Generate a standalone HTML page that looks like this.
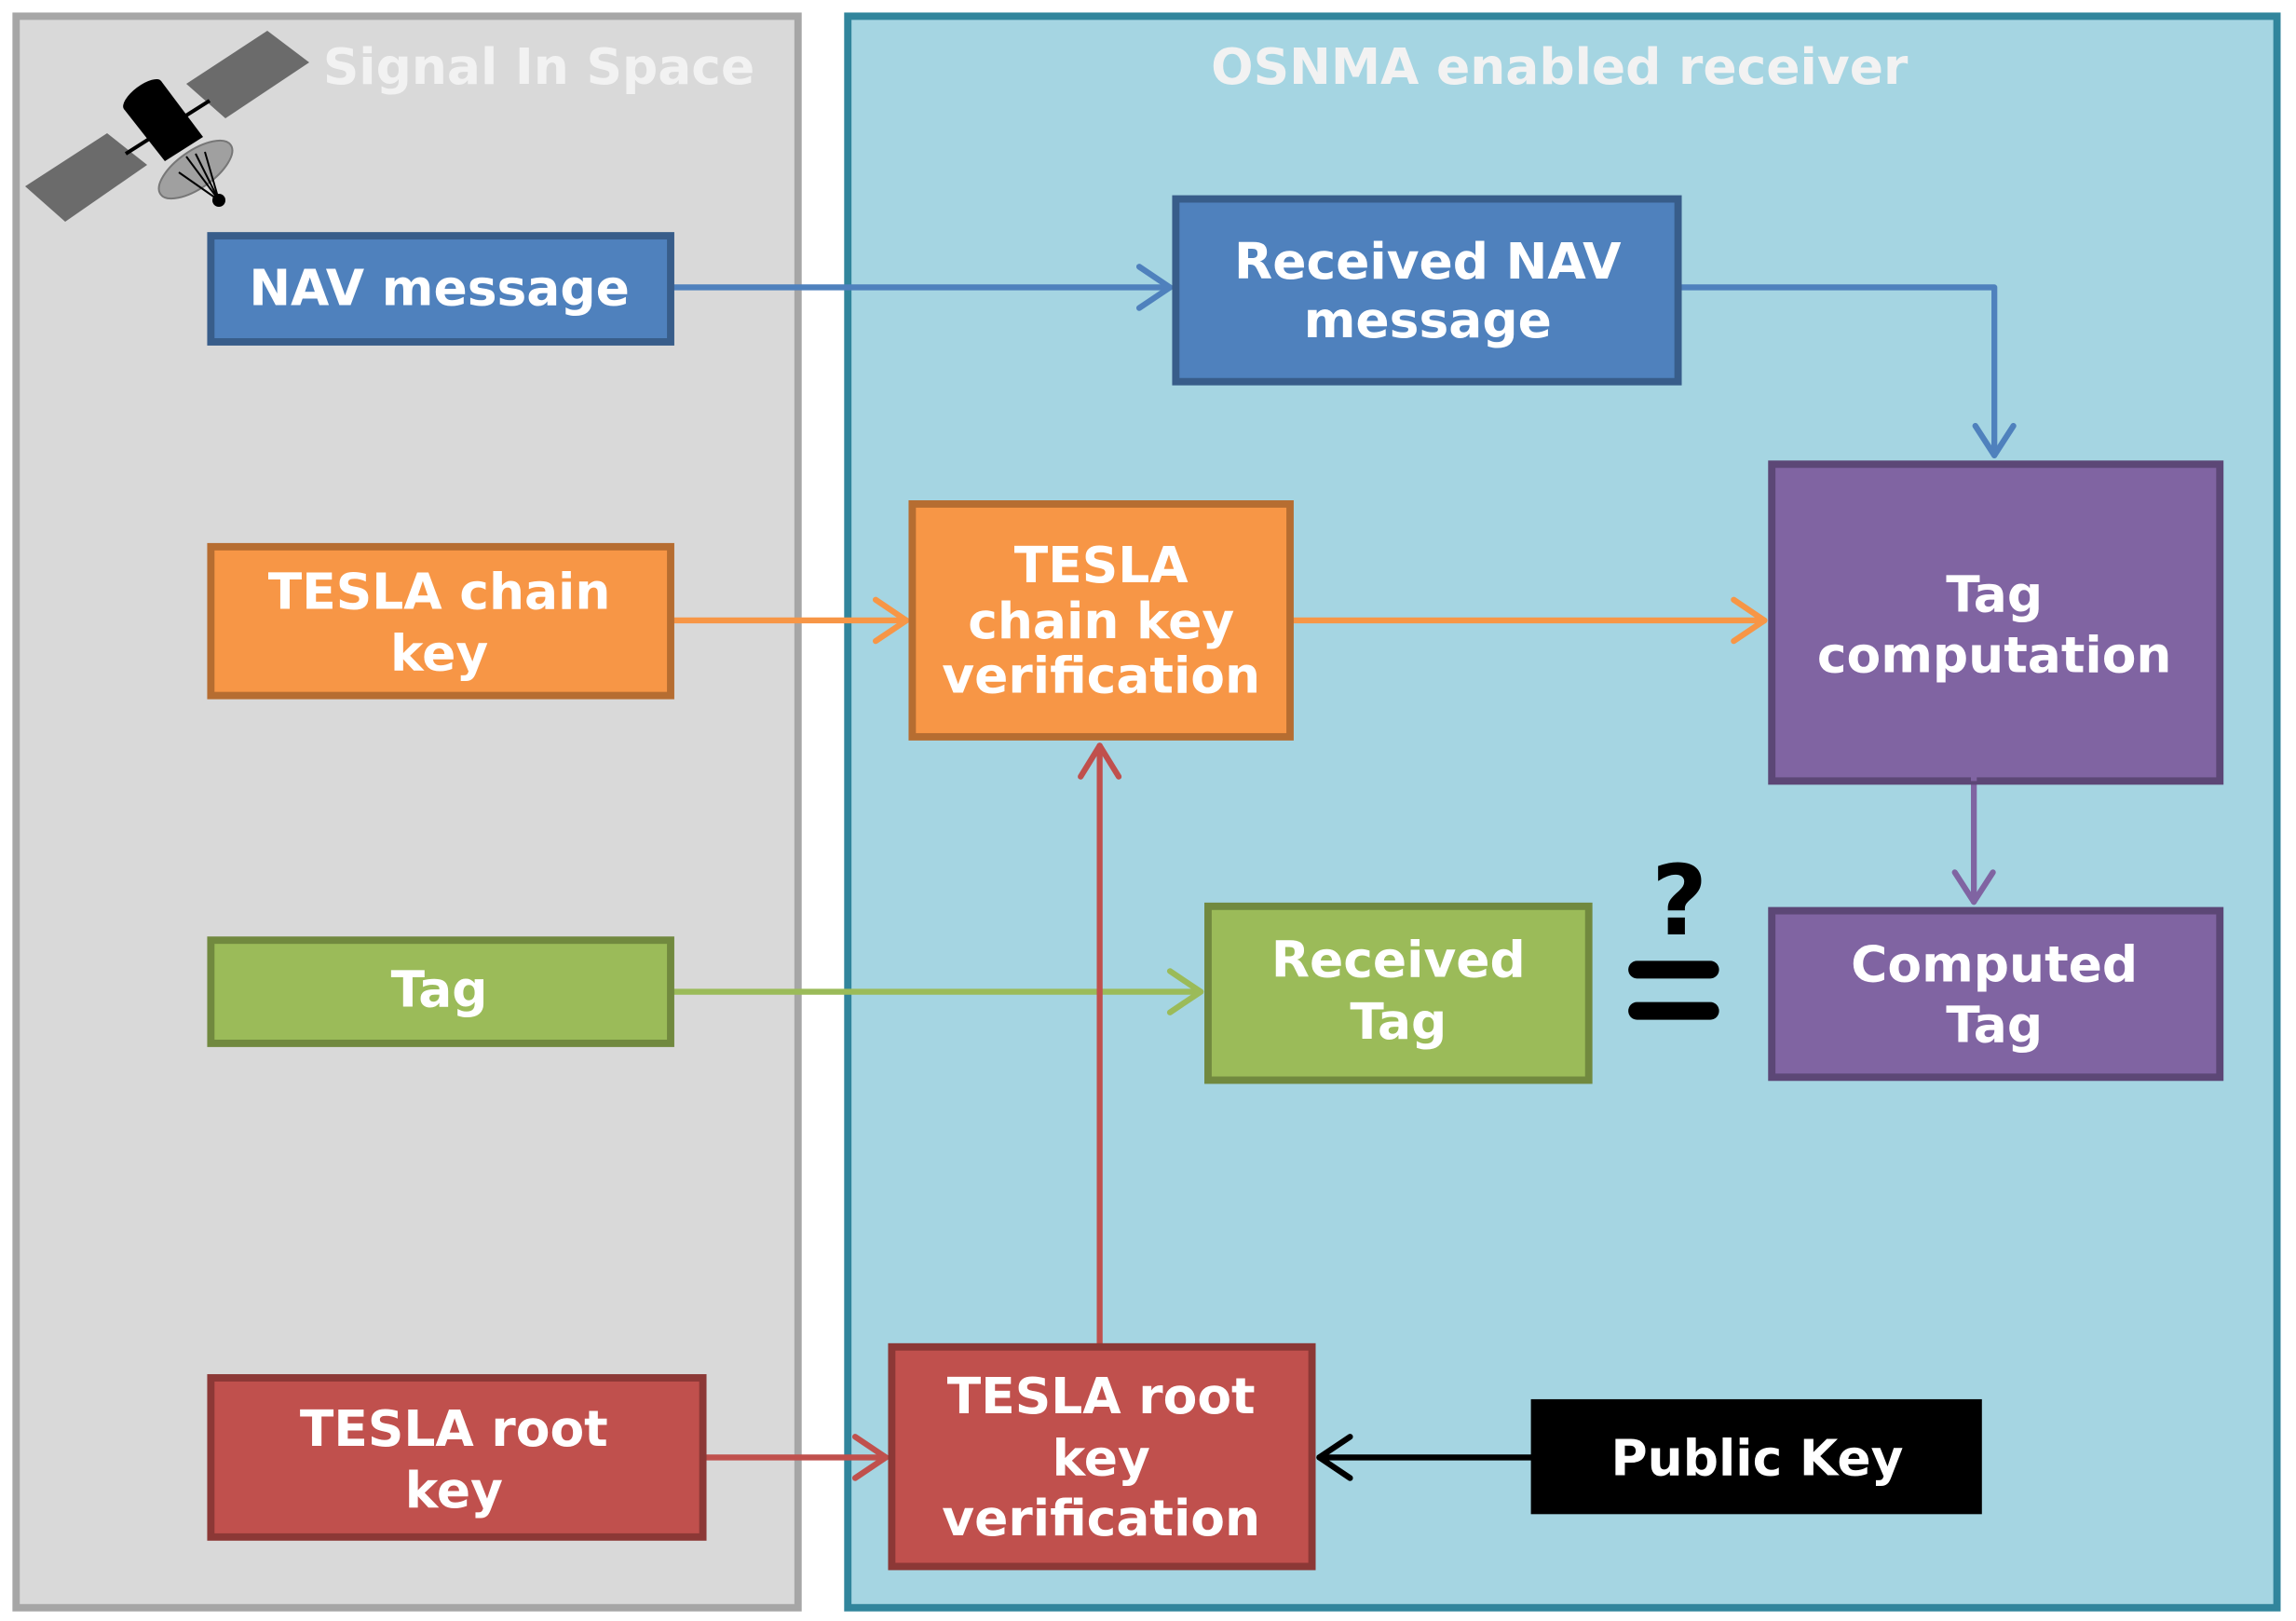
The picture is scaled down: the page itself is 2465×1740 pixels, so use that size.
<!DOCTYPE html>
<html><head><meta charset="utf-8"><style>
html,body{margin:0;padding:0;background:#fff;}
svg{display:block;}
text{font-family:"DejaVu Sans","Liberation Sans",sans-serif;font-weight:bold;fill:#fff;text-anchor:middle;font-size:34px;}
</style></head><body>
<svg width="2465" height="1740" viewBox="0 0 1568 1100" preserveAspectRatio="none" xmlns="http://www.w3.org/2000/svg">
<rect x="0" y="0" width="1568" height="1100" fill="#fff"/>
<rect x="11" y="11" width="534" height="1080" fill="#d9d9d9" stroke="#a6a6a6" stroke-width="5"/>
<rect x="579" y="11" width="976" height="1080" fill="#a5d5e2" stroke="#31859c" stroke-width="5"/>
<text x="368" y="57" style="fill:#f2f2f2">Signal In Space</text>
<text x="1065" y="57" style="fill:#f2f2f2">OSNMA enabled receiver</text>

<g transform="scale(0.6361,0.6322)">
<polygon points="200,90 287,33 332,67 242,127" fill="#6b6b6b"/>
<polygon points="27,200 115,143 158,177 70,238" fill="#6b6b6b"/>
<line x1="135" y1="165" x2="225" y2="108" stroke="#000" stroke-width="4"/>
<ellipse cx="210" cy="182" rx="46" ry="20" transform="rotate(-35 210 182)" fill="#a0a0a0" stroke="#777" stroke-width="2"/>
<polygon points="133,117 173,87 218,147 177,173" fill="#000"/>
<ellipse cx="153" cy="102" rx="25" ry="10" transform="rotate(-37 153 102)" fill="#000"/>
<line x1="200" y1="168" x2="235" y2="215" stroke="#000" stroke-width="2"/>
<line x1="210" y1="165" x2="235" y2="215" stroke="#000" stroke-width="2"/>
<line x1="220" y1="163" x2="235" y2="215" stroke="#000" stroke-width="2"/>
<line x1="192" y1="185" x2="235" y2="215" stroke="#000" stroke-width="2"/>
<circle cx="235" cy="215" r="7" fill="#000"/>
</g>

<g fill="none" stroke-width="4" stroke-linecap="round" stroke-linejoin="round">
<path d="M460 195 H799" stroke="#4f81bd"/><path d="M778 181 L799 195 L778 209" stroke="#4f81bd"/>
<path d="M1148 195 H1362 V309" stroke="#4f81bd"/><path d="M1349 289 L1362 309 L1375 289" stroke="#4f81bd"/>
<path d="M460 421 H619" stroke="#f79646"/><path d="M598 407 L619 421 L598 435" stroke="#f79646"/>
<path d="M883 421 H1205" stroke="#f79646"/><path d="M1184 407 L1205 421 L1184 435" stroke="#f79646"/>
<path d="M1348 470 V612" stroke="#8064a2"/><path d="M1335 592 L1348 612 L1361 592" stroke="#8064a2"/>
<path d="M460 673 H820" stroke="#9bbb59"/><path d="M799 659 L820 673 L799 687" stroke="#9bbb59"/>
<path d="M482 989 H605" stroke="#c0504d"/><path d="M584 975 L605 989 L584 1003" stroke="#c0504d"/>
<path d="M751 912 V506" stroke="#c0504d"/><path d="M738 527 L751 506 L764 527" stroke="#c0504d"/>
<path d="M1046 989 H901" stroke="#000"/><path d="M922 975 L901 989 L922 1003" stroke="#000"/>
</g>

<g stroke-width="5">
<rect x="144" y="160" width="314" height="72" fill="#4f81bd" stroke="#385d8a"/>
<rect x="803" y="135" width="343" height="124" fill="#4f81bd" stroke="#385d8a"/>
<rect x="144" y="371" width="314" height="101" fill="#f79646" stroke="#b66d31"/>
<rect x="623" y="342" width="258" height="158" fill="#f79646" stroke="#b66d31"/>
<rect x="1210" y="315" width="306" height="215" fill="#8064a2" stroke="#5c4776"/>
<rect x="144" y="638" width="314" height="70" fill="#9bbb59" stroke="#71893f"/>
<rect x="825" y="615" width="260" height="118" fill="#9bbb59" stroke="#71893f"/>
<rect x="1210" y="618" width="306" height="113" fill="#8064a2" stroke="#5c4776"/>
<rect x="144" y="935" width="336" height="108" fill="#c0504d" stroke="#8c3836"/>
<rect x="609" y="914" width="287" height="149" fill="#c0504d" stroke="#8c3836"/>
<rect x="1046" y="950" width="307" height="77" fill="#000" stroke="#000" stroke-width="1"/>
</g>
<path d="M1348 470 V530" stroke="#8064a2" stroke-width="4"/>

<text x="300" y="207">NAV message</text>
<text x="975" y="189">Received NAV</text><text x="975" y="229">message</text>
<text x="300" y="413">TESLA chain</text><text x="300" y="455">key</text>
<text x="752" y="395">TESLA</text><text x="752" y="433">chain key</text><text x="752" y="470">verification</text>
<text x="1362" y="415">Tag</text><text x="1362" y="456">computation</text>
<text x="300" y="683">Tag</text>
<text x="955" y="663">Received</text><text x="955" y="705">Tag</text>
<text x="1362" y="666">Computed</text><text x="1362" y="707">Tag</text>
<text x="310" y="981">TESLA root</text><text x="310" y="1023">key</text>
<text x="752" y="959">TESLA root</text><text x="752" y="1001">key</text><text x="752" y="1042">verification</text>
<text x="1200" y="1001">Public Key</text>

<text x="1147" y="634" style="fill:#000;font-size:66px">?</text>
<line x1="1118" y1="658" x2="1168" y2="658" stroke="#000" stroke-width="12" stroke-linecap="round"/>
<line x1="1118" y1="686" x2="1168" y2="686" stroke="#000" stroke-width="12" stroke-linecap="round"/>
</svg>
</body></html>
